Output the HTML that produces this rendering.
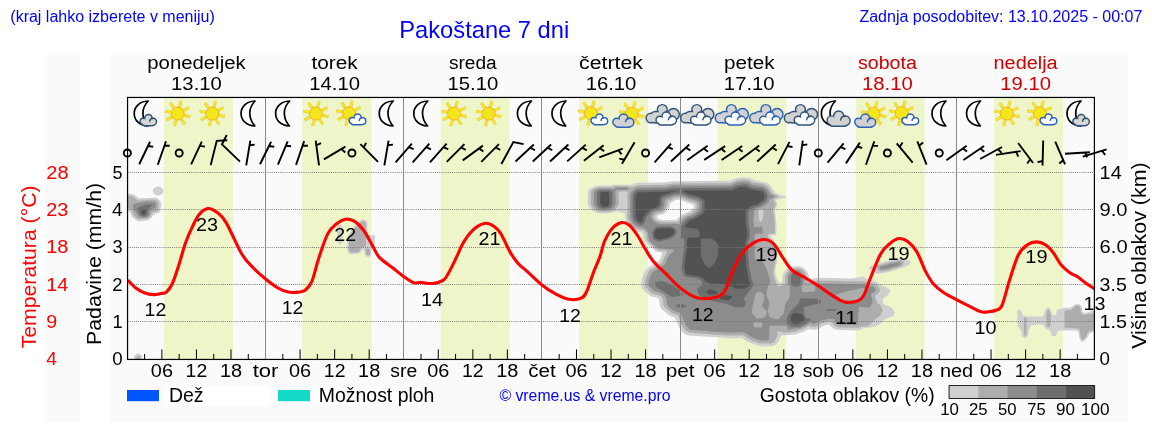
<!DOCTYPE html>
<html><head><meta charset="utf-8"><title>Pakoštane 7 dni</title>
<style>
html,body{margin:0;padding:0;background:#fff;}
body{width:1152px;height:443px;overflow:hidden;font-family:"Liberation Sans",sans-serif;}
svg{display:block;will-change:transform;opacity:0.999;}
svg text{font-family:"Liberation Sans",sans-serif;}
</style></head><body>
<svg width="1152" height="443" viewBox="0 0 1152 443">
<rect x="45" y="55" width="35" height="367.5" fill="#fafafa"/>
<rect x="110" y="55" width="1017.7" height="367.5" fill="#fafafa"/>
<rect x="163.91" y="97.45" width="68.98" height="262" fill="#eef5c8"/>
<rect x="302.31" y="97.45" width="68.94" height="262" fill="#eef5c8"/>
<rect x="440.7" y="97.45" width="68.9" height="262" fill="#eef5c8"/>
<rect x="579.09" y="97.45" width="68.86" height="262" fill="#eef5c8"/>
<rect x="717.49" y="97.45" width="68.82" height="262" fill="#eef5c8"/>
<rect x="855.88" y="97.45" width="68.78" height="262" fill="#eef5c8"/>
<rect x="994.27" y="97.45" width="68.74" height="262" fill="#eef5c8"/>
<clipPath id="pc"><rect x="127.55" y="97.45" width="966.85" height="262.00"/></clipPath>
<g clip-path="url(#pc)" fill-rule="evenodd" stroke="none">
<path d="M136.5 353.8L134.2 356.5L133.8 358.8L134.8 361.8L141.8 361.8L142.5 358.8L141.8 355.8L140.5 354.2L139.2 353.5ZM1095.5 312.8L1094.5 310.8L1092.5 310.8L1086.2 312.8L1083.5 312.8L1082.2 310.8L1082.2 308.2L1081.5 306.2L1078.8 303.8L1076.2 303.8L1070.8 307.5L1064.2 307.8L1058.2 309.5L1056.8 310.5L1056.2 314.5L1054.8 315.5L1053.5 315.5L1052.2 314.2L1050.5 309.2L1048.5 307.8L1047.5 307.8L1045.8 309.2L1044.5 311.5L1043.8 315.2L1042.2 316.5L1026.8 316.5L1023.8 315.8L1022.2 314.5L1021.2 310.5L1020.2 309.8L1018.2 309.8L1017.2 311.2L1017.5 325.8L1021.2 330.8L1021.5 334.5L1022.2 336.5L1025.2 338.2L1026.2 337.8L1028.2 335.5L1028.8 330.2L1030.5 326.2L1031.5 325.2L1037.2 324.5L1042.8 324.5L1046.5 329.2L1048.8 329.8L1050.5 331.5L1051.8 335.5L1053.2 336.5L1055.2 336.2L1056.2 335.2L1057.5 331.8L1059.2 330.5L1076.8 330.5L1078.5 332.2L1079.5 338.5L1080.5 340.8L1081.8 341.8L1083.2 341.8L1086.8 338.5L1089.8 333.2L1094.2 331.5L1095.5 330.2L1095.8 328.2ZM910.5 262.5L909.5 260.5L901.5 258.5L899.2 258.5L887.5 260.8L877.8 263.5L869.8 266.8L869.2 267.5L869.2 268.5L871.8 271.8L876.5 273.8L879.5 273.8L889.8 271.8L902.5 267.8L910.2 264.2ZM338.8 224.5L337.2 225.8L337.2 242.2L339.2 244.2L340.5 244.5L342.5 242.2L342.2 226.2L341.5 225.2L340.2 224.5ZM361.5 219.5L359.5 220.8L356.5 223.8L351.2 230.2L347.2 237.5L347.2 249.5L348.5 253.5L349.5 254.2L358.5 253.8L360.5 252.5L362.5 249.5L363.5 249.5L364.5 251.5L364.8 254.5L365.5 256.2L366.2 256.8L369.5 256.8L371.2 255.2L371.5 248.8L374.8 247.2L374.8 235.5L374.5 234.8L372.8 235.5L369.2 235.5L367.5 234.2L367.5 223.5L366.8 221.5L365.8 220.2L364.5 219.5ZM124.5 195.8L124.5 207.5L124.8 208.2L128.8 210.8L130.2 212.5L131.8 216.5L133.8 218.5L137.8 221.2L141.2 221.2L147.8 220.2L150.8 218.5L154.5 213.8L158.2 213.2L160.2 211.2L161.2 205.8L161.2 202.8L159.8 200.5L156.8 197.8L138.8 198.2L133.8 194.5L130.8 193.8L126.5 193.8ZM157.2 186.5L155.5 187.2L153.5 188.8L152.8 190.2L152.8 191.8L153.5 193.2L155.8 195.2L159.2 195.5L160.8 194.8L163.2 192.8L163.5 189.8L160.8 187.2L159.2 186.5ZM587.8 191.5L587.8 204.5L589.8 208.2L592.5 210.8L595.2 212.2L600.5 213.5L609.5 213.2L612.8 212.5L615.2 211.5L617.5 211.5L624.2 213.2L624.8 213.8L625.2 218.2L625.8 220.5L628.2 225.5L630.5 227.8L634.2 230.2L637.2 231.5L641.5 232.2L642.8 234.2L643.2 237.8L643.8 239.8L646.2 243.2L655.8 251.2L657.5 251.8L660.8 252.2L662.2 253.2L661.8 254.8L659.2 260.5L656.8 262.8L647.2 268.5L645.2 270.8L642.5 276.8L641.2 282.5L641.2 286.5L642.2 288.5L648.8 294.8L651.2 296.2L657.2 297.8L659.2 299.5L659.8 305.2L661.2 308.5L667.8 314.2L671.2 316.2L674.2 317.2L675.5 318.5L679.2 327.8L682.5 332.2L686.2 334.8L689.2 335.5L724.5 337.8L729.2 338.5L741.5 337.8L748.5 342.2L757.2 345.5L760.2 346.2L771.2 346.2L774.2 345.5L776.5 344.2L778.5 341.8L780.8 336.5L781.8 335.5L795.2 334.5L804.2 331.5L808.2 329.2L810.2 329.2L812.5 329.8L817.5 329.2L823.5 325.8L826.8 324.8L829.2 324.8L833.2 328.5L837.5 329.8L857.2 330.5L860.2 329.8L863.8 328.2L868.8 327.8L875.8 326.2L880.8 323.2L886.5 318.5L892.8 316.2L894.5 313.5L894.2 311.5L891.5 307.8L889.2 306.2L884.5 304.5L883.2 303.2L882.5 300.8L882.8 298.8L888.5 294.5L890.2 291.2L889.8 289.8L887.2 287.8L881.5 285.5L877.5 282.2L875.2 281.2L865.8 278.8L863.5 276.5L850.5 278.5L817.5 277.8L810.5 279.2L808.8 277.5L808.8 275.8L807.5 272.2L804.2 268.5L799.5 266.2L794.2 266.2L789.2 267.5L786.5 269.2L783.5 273.2L782.5 275.8L782.5 281.5L780.8 282.8L779.5 282.8L778.2 281.5L776.2 276.5L775.2 271.5L775.8 266.2L777.2 261.8L777.2 248.5L774.2 240.2L770.5 236.8L770.5 235.8L771.5 235.2L774.5 235.2L775.8 234.5L776.5 233.2L776.5 223.8L774.8 209.5L777.2 205.8L777.2 203.8L775.8 200.5L776.8 199.5L785.2 197.8L786.8 196.8L785.2 196.2L782.2 195.8L775.8 193.2L774.5 191.8L771.5 186.8L768.5 183.8L765.2 182.2L754.5 180.5L750.8 178.5L747.8 177.5L741.8 177.5L734.8 178.5L729.8 180.8L673.5 181.2L665.2 182.5L638.5 182.8L634.5 183.5L631.8 184.8L613.5 184.8L611.8 185.5L596.5 185.8L590.5 188.2L588.5 190.2ZM693.8 205.5L693.8 207.5L690.2 211.2L682.2 214.5L675.8 220.2L673.8 219.8L663.2 220.2L658.8 219.2L656.8 217.2L656.8 216.5L658.2 215.2L664.5 213.8L668.2 209.2L669.5 206.5L670.2 203.5L674.8 200.2L679.5 199.5L687.5 202.8L691.2 203.8Z" fill="#cfcfcf"/>
<path d="M137.8 355.8L136.2 357.2L135.8 358.8L137.8 361.8L138.8 361.8L140.2 359.8L140.5 358.2L139.5 356.2ZM1024.5 317.8L1023.8 318.5L1023.8 331.5L1024.2 331.8L1024.2 335.2L1025.5 335.8L1026.2 335.2L1026.5 333.2L1026.8 318.5L1026.2 317.8ZM1047.8 309.5L1046.8 311.5L1046.8 313.5L1046.2 315.8L1046.5 325.5L1047.5 327.2L1049.5 327.2L1050.5 325.5L1050.8 316.5L1049.5 310.5L1048.8 309.5ZM1075.5 305.8L1071.2 309.8L1065.2 310.5L1064.5 311.2L1064.5 327.2L1065.2 327.8L1078.5 328.5L1079.5 329.5L1080.8 338.2L1082.2 339.8L1083.2 339.8L1086.2 336.5L1087.8 332.8L1089.2 331.5L1094.2 329.8L1094.5 329.2L1094.5 314.2L1093.8 313.5L1091.8 313.5L1085.5 314.8L1082.2 314.8L1080.8 312.5L1080.8 309.5L1079.8 306.8L1078.8 305.8ZM903.8 262.5L903.2 261.2L900.8 260.2L897.5 260.5L879.5 264.8L877.5 265.8L876.8 267.5L877.8 269.8L879.5 271.2L882.5 271.5L886.5 270.8L900.2 266.8L902.5 265.5ZM366.2 248.5L365.5 249.5L366.2 254.2L366.8 255.2L369.2 255.2L369.8 254.5L369.8 249.5L369.5 248.8L368.5 248.5ZM364.2 221.2L361.8 221.2L358.8 223.5L352.2 231.5L348.8 237.5L348.8 249.8L350.2 252.5L358.2 252.2L359.5 251.2L360.8 248.5L361.8 247.5L364.8 247.2L365.8 246.5L366.2 245.2L365.8 223.5L364.8 221.5ZM126.8 197.2L126.8 206.5L127.2 207.2L131.5 210.2L133.8 215.2L136.2 217.5L138.8 219.2L147.5 218.5L150.5 216.5L151.5 213.5L152.5 212.2L156.8 211.2L157.8 210.2L158.8 203.5L157.5 201.2L155.5 199.8L147.8 199.5L145.2 200.2L138.8 200.5L136.8 199.8L132.2 196.2L128.2 195.8ZM591.2 191.2L590.8 192.2L590.8 203.8L592.2 206.8L594.5 209.5L596.8 210.8L600.5 211.8L609.5 211.5L613.2 210.5L615.5 209.2L617.5 206.8L618.8 203.8L618.8 197.2L618.5 196.8L618.8 192.2L619.8 191.5L626.8 191.5L627.8 192.2L627.5 194.5L627.5 216.5L628.5 220.5L629.8 223.5L631.5 225.5L635.5 228.2L638.8 229.5L643.2 230.2L645.8 233.2L646.8 239.5L647.8 241.8L656.2 249.2L658.8 250.2L665.5 250.8L667.2 251.8L667.2 252.5L665.8 254.2L663.2 259.5L662.5 261.8L658.8 265.2L650.5 269.8L648.5 271.8L645.8 278.2L644.8 282.5L644.8 286.2L651.8 293.2L660.2 295.8L661.5 296.8L662.8 299.2L663.5 305.2L664.2 306.8L671.2 312.8L676.8 314.8L678.2 315.8L682.5 326.8L684.8 329.2L685.2 330.2L688.2 332.5L710.5 334.2L710.8 334.5L725.2 335.2L725.5 335.5L742.8 335.2L751.2 340.2L759.2 343.2L770.2 343.5L773.5 342.5L775.2 340.8L777.5 335.5L777.5 331.2L777.8 330.8L781.8 332.5L788.5 332.5L794.5 331.8L803.2 328.8L808.5 325.8L809.5 325.8L811.5 326.8L815.5 326.8L821.5 323.5L827.5 321.8L831.2 321.8L835.2 326.2L838.5 327.2L857.8 327.8L862.8 326.5L868.2 325.8L869.8 324.8L875.2 319.5L880.5 315.2L882.5 311.2L882.5 309.5L880.5 305.2L876.8 302.8L876.2 299.5L875.2 297.2L875.2 295.5L877.8 293.5L879.8 291.2L879.8 289.2L879.2 287.8L876.5 285.2L874.2 283.8L863.8 281.2L841.5 281.2L841.2 280.8L815.8 280.8L809.8 282.2L807.2 282.2L806.5 281.2L805.8 274.8L804.5 272.2L802.2 269.8L799.8 268.5L794.5 268.2L789.5 269.8L786.5 273.2L785.2 276.5L785.5 283.2L784.5 284.5L779.5 286.5L777.8 286.2L776.8 285.2L773.5 274.8L773.5 269.8L775.5 261.8L775.5 248.2L772.8 241.2L769.2 238.2L767.2 235.8L768.2 234.5L769.5 233.8L774.2 233.5L774.8 232.8L774.8 223.5L773.2 209.2L775.5 205.5L775.5 203.8L773.5 199.8L774.5 198.8L777.2 197.8L778.2 196.8L778.2 196.2L777.2 195.2L774.5 194.5L772.8 193.5L768.8 187.5L765.5 184.8L762.2 183.8L752.8 182.5L749.5 180.5L744.8 179.5L736.5 180.5L730.5 183.2L673.2 183.5L665.2 184.8L638.2 185.2L634.2 186.2L632.8 187.2L630.8 187.2L628.8 186.2L614.5 186.2L612.2 187.2L598.5 187.2L593.5 188.8ZM756.2 217.8L756.5 218.2L756.2 220.2L755.5 219.2ZM761.8 209.2L763.5 210.2L763.5 213.8L762.5 219.8L760.8 221.8L760.2 221.8L759.2 220.8L758.2 210.8L759.2 209.5ZM696.8 204.5L696.5 208.5L695.5 209.8L694.2 210.5L691.8 212.8L683.8 216.2L678.2 221.8L677.2 222.2L660.5 221.8L656.5 220.5L654.8 218.8L653.8 216.8L655.2 214.2L657.2 213.2L662.2 212.2L663.5 211.5L666.8 206.2L667.5 203.8L667.5 201.8L668.8 200.5L670.8 200.2L673.8 198.2L677.2 197.5L680.5 197.5L687.5 200.5L694.2 202.5Z" fill="#adadad"/>
<path d="M900.8 262.8L900.2 262.2L898.8 262.2L890.2 263.8L880.2 266.8L879.8 267.8L880.5 269.2L881.2 269.5L887.2 268.8L899.2 265.2L900.2 264.5ZM156.2 203.2L154.8 202.2L147.5 201.2L134.2 203.8L132.8 204.8L133.2 208.5L138.8 216.5L141.2 217.5L145.5 217.5L147.5 216.8L148.8 215.5L149.5 214.2L149.8 211.2L151.5 209.5L155.8 207.5ZM628.2 188.2L627.2 187.5L616.2 187.5L614.8 188.5L614.2 189.8L610.5 188.8L598.8 188.8L595.5 190.2L594.5 191.2L593.8 192.8L593.8 203.2L594.8 205.8L597.5 208.8L600.8 210.2L606.8 210.2L610.5 209.5L612.5 208.5L614.2 206.8L615.8 202.8L615.2 190.5L616.8 189.8L627.2 189.8L628.2 189.2ZM630.8 192.8L630.2 194.8L630.2 216.8L632.2 222.5L634.2 224.5L636.8 226.2L639.2 227.2L642.8 227.5L644.8 228.8L647.8 232.2L648.8 238.5L649.8 241.2L656.8 247.2L658.8 248.2L671.5 249.5L673.8 250.5L673.8 251.5L670.5 253.8L668.8 255.8L666.8 259.8L665.5 263.8L659.8 268.2L653.2 271.8L651.5 273.5L649.5 278.5L648.5 282.8L648.5 285.5L653.8 290.8L662.2 293.5L664.5 295.2L666.5 298.8L666.8 303.2L667.8 306.2L673.2 310.5L679.8 312.8L681.2 313.8L685.8 325.5L688.5 327.8L688.8 329.2L689.8 329.8L708.5 331.2L708.8 331.5L727.5 332.5L727.8 332.8L742.5 332.2L745.8 333.2L750.5 336.5L753.2 337.8L760.2 340.5L768.2 340.5L768.8 339.8L768.8 336.2L769.2 335.8L769.2 326.8L770.2 325.8L773.2 325.5L786.2 325.8L787.2 326.8L787.5 328.8L788.2 329.5L790.8 329.5L795.2 328.5L799.8 328.2L807.5 324.5L809.8 322.8L811.2 322.8L812.8 324.2L814.2 324.2L820.2 320.8L828.8 318.8L833.8 319.2L836.8 323.5L837.8 324.2L856.5 324.8L857.8 323.5L858.8 307.8L859.8 306.8L869.2 307.8L870.5 306.5L872.5 302.5L872.5 299.8L870.8 294.5L872.2 293.2L874.8 291.8L876.2 289.8L873.5 286.8L864.8 284.2L816.8 283.5L814.8 284.5L815.5 290.5L814.5 291.5L803.8 292.2L802.5 291.2L801.8 289.2L801.8 285.8L803.2 284.2L803.8 280.8L802.8 274.2L799.2 270.5L795.2 270.2L791.5 271.2L789.5 273.2L788.2 275.5L787.8 276.8L788.2 283.5L790.2 287.8L789.8 294.8L789.2 297.8L785.2 304.2L783.8 313.5L777.8 319.5L771.8 318.2L769.5 316.5L767.8 311.8L769.5 302.5L766.5 296.2L766.5 293.2L767.8 286.5L769.8 283.5L770.5 281.5L766.8 269.8L762.2 260.5L760.8 259.2L755.8 259.5L754.8 258.5L754.5 235.2L755.8 233.8L762.5 233.5L762.8 230.8L762.2 227.8L761.2 226.5L755.2 227.2L754.2 226.2L753.5 221.5L753.5 216.5L754.2 211.2L755.5 209.5L758.2 207.8L762.2 207.2L765.8 204.8L768.2 202.5L769.2 199.8L770.5 198.5L773.5 197.5L774.8 196.5L774.2 195.8L770.5 194.5L767.5 189.8L764.2 186.8L752.5 184.8L748.2 182.5L744.5 181.8L736.8 182.8L730.8 185.5L672.8 185.8L665.2 187.2L637.8 187.5L634.8 188.5ZM753.5 323.5L754.8 322.2L761.2 322.2L762.5 323.5L762.5 326.2L761.2 327.5L754.8 327.5L753.5 326.2ZM757.5 291.8L761.8 292.5L763.5 294.2L764.2 296.8L764.2 299.8L762.2 304.8L762.2 306.2L766.8 311.2L766.8 312.5L765.8 315.2L764.2 317.5L758.8 318.5L756.5 318.2L751.8 313.2L752.5 307.5L755.8 293.5ZM865.5 288.8L864.8 292.8L863.5 295.2L859.8 298.8L857.8 299.8L848.8 300.8L839.2 300.5L837.2 299.5L834.5 296.8L834.5 296.2L835.8 294.8L846.2 291.5L863.5 287.8ZM699.2 202.8L699.5 206.2L698.8 210.2L692.8 214.8L685.8 217.5L679.2 224.2L675.8 223.8L661.5 224.2L658.2 223.5L654.8 222.2L652.5 219.8L651.2 217.2L651.5 214.8L653.2 212.8L654.8 211.8L660.2 210.5L662.2 209.2L664.5 205.2L664.8 200.2L665.8 199.2L670.2 197.8L673.2 196.2L676.8 195.5L681.2 195.5L688.2 198.5L696.5 200.8Z" fill="#8c8c8c"/>
<path d="M825.8 309.8L826.2 310.8L835.8 310.8L836.5 310.2L836.2 309.2L826.5 309.2ZM675.8 305.2L676.5 306.5L679.8 307.8L683.2 307.8L686.2 306.8L686.8 306.2L685.5 305.2L680.2 303.8ZM821.2 300.5L818.8 299.5L813.8 298.5L807.8 298.8L804.2 298.2L800.2 298.2L799.5 299.2L799.5 301.5L798.8 302.8L789.2 313.2L786.5 318.8L786.8 323.2L791.2 326.5L794.5 326.5L794.8 326.8L799.2 326.8L806.2 323.5L810.8 319.8L811.2 318.5L806.5 318.2L805.5 317.2L803.8 312.2L803.8 307.5L804.8 306.5L808.2 306.5L813.5 304.5L819.2 304.2L820.8 302.5ZM654.8 283.2L656.5 286.8L658.5 288.8L671.5 296.8L675.5 296.8L682.5 295.5L682.5 294.2L680.5 290.8L672.2 285.2L663.5 281.2L660.2 281.2L655.5 282.2ZM796.8 272.2L792.8 273.2L790.8 276.2L791.2 283.8L793.2 286.2L794.5 286.8L795.8 286.8L799.8 285.5L800.8 282.5L800.5 275.8L799.8 274.5L797.8 272.5ZM675.8 229.2L673.8 227.5L669.2 226.2L656.8 226.8L655.5 227.5L652.5 231.2L652.2 233.2L652.8 237.5L653.8 239.2L658.2 241.5L659.8 241.5L670.5 238.8L671.8 238.2L675.8 234.2L676.5 232.5ZM152.2 204.2L145.5 204.8L138.8 207.2L137.8 208.2L138.2 211.2L140.2 215.2L142.5 216.2L144.5 216.2L146.5 215.5L147.5 213.8L148.2 209.5L151.8 205.5ZM598.5 190.8L597.2 192.2L597.2 204.2L598.8 206.8L600.5 208.2L603.2 208.8L608.5 208.2L610.5 207.2L612.5 203.8L612.2 192.2L610.8 190.8L608.2 190.2L601.2 190.2ZM635.8 190.8L634.2 192.5L632.8 194.8L632.8 216.8L633.8 220.2L634.8 221.8L638.2 224.2L640.8 225.2L642.8 224.8L644.2 223.8L646.5 217.2L651.2 211.5L654.2 209.8L658.2 208.8L660.5 207.2L662.2 203.8L661.8 200.5L662.2 198.8L664.2 197.2L674.5 193.8L681.5 193.5L690.8 197.2L692.2 197.2L697.8 198.8L701.5 201.5L702.2 203.5L702.2 205.8L701.8 206.2L701.8 209.8L701.2 211.5L694.8 216.2L687.5 219.2L683.8 222.8L682.5 224.8L680.2 226.8L679.8 227.8L680.2 237.5L683.5 238.8L684.5 240.5L684.2 248.2L681.8 264.2L681.8 268.8L683.2 274.2L683.8 275.5L685.5 276.8L696.5 278.2L701.5 280.8L702.5 282.8L702.5 283.8L700.5 286.2L697.5 288.2L697.2 290.5L698.5 294.2L703.8 298.5L711.5 300.8L726.5 303.8L735.8 307.2L743.5 307.2L744.2 306.8L745.2 305.5L745.8 302.2L743.8 299.5L743.8 298.2L753.2 285.8L753.2 283.8L751.2 277.8L751.2 276.2L749.5 268.8L748.2 255.5L747.8 242.8L749.8 237.2L749.8 230.8L748.2 221.8L748.5 212.8L749.2 210.8L752.5 208.2L759.5 205.8L765.5 201.8L766.8 199.2L767.5 196.8L767.5 194.8L764.8 190.5L762.8 188.8L751.8 187.2L746.8 184.5L744.8 184.2L737.2 185.2L731.5 187.8L672.8 188.2L665.2 189.5L638.2 189.8Z" fill="#6e6e6e"/>
<path d="M790.8 316.5L790.8 321.5L791.8 322.5L795.8 324.2L801.2 322.5L803.2 321.5L804.5 319.8L803.2 315.5L802.2 314.5L800.5 313.8L794.8 312.8L791.8 314.8ZM720.2 298.8L721.5 299.8L728.2 300.2L731.8 297.8L732.2 296.8L731.5 296.2L728.2 295.2L724.8 295.2L720.8 296.8L720.2 297.5ZM706.8 291.5L706.8 292.8L708.2 294.2L715.8 294.5L717.5 292.8L716.8 291.8L711.5 289.5L709.5 289.5ZM654.2 232.8L654.8 237.2L657.8 239.5L660.8 239.5L670.5 236.8L674.2 233.2L674.2 230.5L673.2 229.2L670.2 228.2L665.5 228.2L665.2 228.5L660.2 228.2L656.8 228.8L655.5 230.2ZM145.5 209.5L144.2 209.2L142.2 209.8L141.2 210.8L141.5 213.5L142.5 214.5L144.2 214.5L145.2 213.8L145.8 211.2ZM601.2 192.2L600.2 193.2L600.2 203.5L601.5 205.8L602.8 206.8L607.2 206.5L608.2 205.8L609.5 203.2L609.2 193.2L608.8 192.5L606.8 191.8ZM676.2 191.2L675.8 190.8L672.5 190.8L666.2 191.8L652.5 191.8L652.2 192.2L638.8 192.2L637.8 192.5L635.5 195.5L635.5 216.5L636.8 220.2L638.5 221.5L640.5 222.5L641.5 222.5L642.5 221.2L642.8 218.8L643.8 216.5L647.5 211.8L650.5 209.2L657.2 206.8L658.5 205.5L659.5 203.5L659.2 198.8L661.5 195.8L666.8 193.5L668.2 193.5L672.5 191.8ZM761.8 191.2L749.8 189.2L745.8 186.8L739.2 187.2L732.2 190.2L684.5 190.5L682.2 191.2L688.8 194.2L697.8 196.2L701.2 197.8L704.2 200.2L704.8 203.2L704.5 210.2L703.8 212.5L702.2 214.2L696.5 217.8L688.8 221.2L684.8 225.8L684.8 226.8L685.8 227.5L694.8 228.5L697.2 229.2L698.8 231.2L699.8 233.8L699.8 236.2L698.5 237.2L688.2 237.8L687.2 238.5L686.8 248.8L685.5 255.8L684.5 264.8L684.5 268.5L685.8 273.5L686.8 274.5L698.5 276.2L702.8 278.2L705.5 281.5L710.2 283.5L726.5 284.5L736.2 288.5L744.5 288.8L750.2 285.5L750.5 284.5L748.8 279.8L746.5 267.2L745.8 256.5L745.5 256.2L745.2 242.5L747.2 236.8L747.2 231.2L745.5 222.2L745.8 212.2L746.5 209.8L749.5 207.2L752.2 205.5L757.5 204.2L763.5 200.2L764.8 195.5L763.2 192.5ZM702.2 238.5L712.2 238.8L715.8 241.5L718.2 244.2L718.2 254.5L715.8 261.5L714.8 263.2L709.8 267.8L708.5 267.8L707.5 267.2L704.8 264.2L701.2 256.8L700.8 255.5L700.8 239.8Z" fill="#525252"/>
</g>

<line x1="127.55" x2="1094.4" y1="321.5" y2="321.5" stroke="#777" stroke-width="1" stroke-dasharray="0.95 1.17"/>
<line x1="127.55" x2="1094.4" y1="284.5" y2="284.5" stroke="#777" stroke-width="1" stroke-dasharray="0.95 1.17"/>
<line x1="127.55" x2="1094.4" y1="247.5" y2="247.5" stroke="#777" stroke-width="1" stroke-dasharray="0.95 1.17"/>
<line x1="127.55" x2="1094.4" y1="209.5" y2="209.5" stroke="#777" stroke-width="1" stroke-dasharray="0.95 1.17"/>
<line x1="127.55" x2="1094.4" y1="172.5" y2="172.5" stroke="#777" stroke-width="1" stroke-dasharray="0.95 1.17"/>
<line x1="265.5" x2="265.5" y1="97.45" y2="359.45" stroke="#8a8a8a" stroke-width="1"/>
<line x1="403.5" x2="403.5" y1="97.45" y2="359.45" stroke="#8a8a8a" stroke-width="1"/>
<line x1="541.5" x2="541.5" y1="97.45" y2="359.45" stroke="#8a8a8a" stroke-width="1"/>
<line x1="680.5" x2="680.5" y1="97.45" y2="359.45" stroke="#8a8a8a" stroke-width="1"/>
<line x1="818.5" x2="818.5" y1="97.45" y2="359.45" stroke="#8a8a8a" stroke-width="1"/>
<line x1="956.5" x2="956.5" y1="97.45" y2="359.45" stroke="#8a8a8a" stroke-width="1"/>
<line x1="144.62" x2="144.62" y1="359.45" y2="353.95" stroke="#000" stroke-width="1"/>
<line x1="161.9" x2="161.9" y1="359.45" y2="349.45" stroke="#000" stroke-width="1"/>
<line x1="179.17" x2="179.17" y1="359.45" y2="353.95" stroke="#000" stroke-width="1"/>
<line x1="196.45" x2="196.45" y1="359.45" y2="349.45" stroke="#000" stroke-width="1"/>
<line x1="213.72" x2="213.72" y1="359.45" y2="353.95" stroke="#000" stroke-width="1"/>
<line x1="230.99" x2="230.99" y1="359.45" y2="349.45" stroke="#000" stroke-width="1"/>
<line x1="248.27" x2="248.27" y1="359.45" y2="353.95" stroke="#000" stroke-width="1"/>
<line x1="282.82" x2="282.82" y1="359.45" y2="353.95" stroke="#000" stroke-width="1"/>
<line x1="300.09" x2="300.09" y1="359.45" y2="349.45" stroke="#000" stroke-width="1"/>
<line x1="317.36" x2="317.36" y1="359.45" y2="353.95" stroke="#000" stroke-width="1"/>
<line x1="334.64" x2="334.64" y1="359.45" y2="349.45" stroke="#000" stroke-width="1"/>
<line x1="351.91" x2="351.91" y1="359.45" y2="353.95" stroke="#000" stroke-width="1"/>
<line x1="369.19" x2="369.19" y1="359.45" y2="349.45" stroke="#000" stroke-width="1"/>
<line x1="386.46" x2="386.46" y1="359.45" y2="353.95" stroke="#000" stroke-width="1"/>
<line x1="421.01" x2="421.01" y1="359.45" y2="353.95" stroke="#000" stroke-width="1"/>
<line x1="438.28" x2="438.28" y1="359.45" y2="349.45" stroke="#000" stroke-width="1"/>
<line x1="455.56" x2="455.56" y1="359.45" y2="353.95" stroke="#000" stroke-width="1"/>
<line x1="472.83" x2="472.83" y1="359.45" y2="349.45" stroke="#000" stroke-width="1"/>
<line x1="490.1" x2="490.1" y1="359.45" y2="353.95" stroke="#000" stroke-width="1"/>
<line x1="507.38" x2="507.38" y1="359.45" y2="349.45" stroke="#000" stroke-width="1"/>
<line x1="524.65" x2="524.65" y1="359.45" y2="353.95" stroke="#000" stroke-width="1"/>
<line x1="559.2" x2="559.2" y1="359.45" y2="353.95" stroke="#000" stroke-width="1"/>
<line x1="576.47" x2="576.47" y1="359.45" y2="349.45" stroke="#000" stroke-width="1"/>
<line x1="593.75" x2="593.75" y1="359.45" y2="353.95" stroke="#000" stroke-width="1"/>
<line x1="611.02" x2="611.02" y1="359.45" y2="349.45" stroke="#000" stroke-width="1"/>
<line x1="628.3" x2="628.3" y1="359.45" y2="353.95" stroke="#000" stroke-width="1"/>
<line x1="645.57" x2="645.57" y1="359.45" y2="349.45" stroke="#000" stroke-width="1"/>
<line x1="662.84" x2="662.84" y1="359.45" y2="353.95" stroke="#000" stroke-width="1"/>
<line x1="697.39" x2="697.39" y1="359.45" y2="353.95" stroke="#000" stroke-width="1"/>
<line x1="714.67" x2="714.67" y1="359.45" y2="349.45" stroke="#000" stroke-width="1"/>
<line x1="731.94" x2="731.94" y1="359.45" y2="353.95" stroke="#000" stroke-width="1"/>
<line x1="749.21" x2="749.21" y1="359.45" y2="349.45" stroke="#000" stroke-width="1"/>
<line x1="766.49" x2="766.49" y1="359.45" y2="353.95" stroke="#000" stroke-width="1"/>
<line x1="783.76" x2="783.76" y1="359.45" y2="349.45" stroke="#000" stroke-width="1"/>
<line x1="801.04" x2="801.04" y1="359.45" y2="353.95" stroke="#000" stroke-width="1"/>
<line x1="835.58" x2="835.58" y1="359.45" y2="353.95" stroke="#000" stroke-width="1"/>
<line x1="852.86" x2="852.86" y1="359.45" y2="349.45" stroke="#000" stroke-width="1"/>
<line x1="870.13" x2="870.13" y1="359.45" y2="353.95" stroke="#000" stroke-width="1"/>
<line x1="887.41" x2="887.41" y1="359.45" y2="349.45" stroke="#000" stroke-width="1"/>
<line x1="904.68" x2="904.68" y1="359.45" y2="353.95" stroke="#000" stroke-width="1"/>
<line x1="921.95" x2="921.95" y1="359.45" y2="349.45" stroke="#000" stroke-width="1"/>
<line x1="939.23" x2="939.23" y1="359.45" y2="353.95" stroke="#000" stroke-width="1"/>
<line x1="973.78" x2="973.78" y1="359.45" y2="353.95" stroke="#000" stroke-width="1"/>
<line x1="991.05" x2="991.05" y1="359.45" y2="349.45" stroke="#000" stroke-width="1"/>
<line x1="1008.32" x2="1008.32" y1="359.45" y2="353.95" stroke="#000" stroke-width="1"/>
<line x1="1025.6" x2="1025.6" y1="359.45" y2="349.45" stroke="#000" stroke-width="1"/>
<line x1="1042.87" x2="1042.87" y1="359.45" y2="353.95" stroke="#000" stroke-width="1"/>
<line x1="1060.15" x2="1060.15" y1="359.45" y2="349.45" stroke="#000" stroke-width="1"/>
<line x1="1077.42" x2="1077.42" y1="359.45" y2="353.95" stroke="#000" stroke-width="1"/>
<defs><g id="i-s"><path d="M0.21 -6.18L1.86 -12.36M4.33 -2.90L9.98 -5.90M4.90 1.80L11.11 3.34M2.09 5.74L5.58 11.10M-3.10 6.60L-4.64 12.81M-7.22 3.50L-12.76 6.70M-7.98 -1.06L-14.26 -2.28M-5.19 -5.27L-8.77 -10.58" stroke="#e9c93c" stroke-width="3.0" stroke-linecap="butt" fill="none"/><path d="M0.21 -6.18L1.74 -11.87M4.33 -2.90L9.54 -5.67M4.90 1.80L10.63 3.22M2.09 5.74L5.31 10.68M-3.10 6.60L-4.52 12.33M-7.22 3.50L-12.33 6.45M-7.98 -1.06L-13.77 -2.19M-5.19 -5.27L-8.49 -10.16" stroke="#f6e72b" stroke-width="2.0" stroke-linecap="butt" fill="none"/><circle cx="-1.5" cy="0.2" r="6.5" fill="#f3e71c" stroke="#f8ad28" stroke-width="1"/></g><g id="i-m"><path d="M6.8 -12.4C-2.5 -12 -7.2 -6 -7.2 -0.2C-7.2 6.5 -2.5 12 6.6 12.6C3.2 8.6 1.5 4.2 1.5 -0.2C1.5 -4.6 3.2 -8.8 6.8 -12.4Z" transform="translate(0 0)" fill="#fff" stroke="#000" stroke-width="1.7" stroke-linejoin="round"/></g><g id="i-ssc"><path d="M-1.19 -6.48L0.46 -12.66M2.93 -3.20L8.58 -6.20M3.50 1.50L9.71 3.04M0.69 5.44L4.18 10.80M-4.50 6.30L-6.04 12.51M-8.62 3.20L-14.16 6.40M-9.38 -1.36L-15.66 -2.58M-6.59 -5.57L-10.17 -10.88" stroke="#e9c93c" stroke-width="3.0" stroke-linecap="butt" fill="none"/><path d="M-1.19 -6.48L0.34 -12.17M2.93 -3.20L8.14 -5.97M3.50 1.50L9.23 2.92M0.69 5.44L3.91 10.38M-4.50 6.30L-5.92 12.03M-8.62 3.20L-13.73 6.15M-9.38 -1.36L-15.17 -2.49M-6.59 -5.57L-9.89 -10.46" stroke="#f6e72b" stroke-width="2.0" stroke-linecap="butt" fill="none"/><circle cx="-2.9" cy="-0.1" r="6.5" fill="#f3e71c" stroke="#f8ad28" stroke-width="1"/><g fill="#2a60b8" stroke="#2a60b8" stroke-width="2.9" stroke-linejoin="round"><circle cx="0.32" cy="7.22" r="2.33"/><circle cx="5.69" cy="4.17" r="2.82"/><circle cx="10.61" cy="7.53" r="2.58"/><rect x="-0.38" y="5.47" width="11.76" height="5.18" rx="2.20"/></g><g fill="#fff" stroke="none"><circle cx="0.32" cy="7.22" r="2.33"/><circle cx="5.69" cy="4.17" r="2.82"/><circle cx="10.61" cy="7.53" r="2.58"/><rect x="-0.38" y="5.47" width="11.76" height="5.18" rx="2.20"/></g><path d="M10.61 4.22A3.30 3.30 0 0 0 7.34 7.07" fill="none" stroke="#2a60b8" stroke-width="1.45" stroke-linecap="round"/></g><g id="i-sbc"><path d="M5.21 -5.88L6.86 -12.06M9.33 -2.60L14.98 -5.60M9.90 2.10L16.11 3.64M7.09 6.04L10.58 11.40M1.90 6.90L0.36 13.11M-2.22 3.80L-7.76 7.00M-2.98 -0.76L-9.26 -1.98M-0.19 -4.97L-3.77 -10.28" stroke="#e9c93c" stroke-width="3.0" stroke-linecap="butt" fill="none"/><path d="M5.21 -5.88L6.74 -11.57M9.33 -2.60L14.54 -5.37M9.90 2.10L15.63 3.52M7.09 6.04L10.31 10.98M1.90 6.90L0.48 12.63M-2.22 3.80L-7.33 6.75M-2.98 -0.76L-8.77 -1.89M-0.19 -4.97L-3.49 -9.86" stroke="#f6e72b" stroke-width="2.0" stroke-linecap="butt" fill="none"/><circle cx="3.5" cy="0.5" r="6.5" fill="#f3e71c" stroke="#f8ad28" stroke-width="1"/><g fill="#2a60b8" stroke="#2a60b8" stroke-width="2.9" stroke-linejoin="round"><circle cx="-11.59" cy="8.68" r="3.14"/><circle cx="-4.84" cy="4.98" r="3.73"/><circle cx="1.35" cy="9.05" r="3.43"/><rect x="-12.53" y="6.33" width="14.91" height="6.82" rx="2.20"/></g><g fill="#d2d2d2" stroke="none"><circle cx="-11.59" cy="8.68" r="3.14"/><circle cx="-4.84" cy="4.98" r="3.73"/><circle cx="1.35" cy="9.05" r="3.43"/><rect x="-12.53" y="6.33" width="14.91" height="6.82" rx="2.20"/></g><path d="M1.35 4.89A4.16 4.16 0 0 0 -2.77 8.47" fill="none" stroke="#2a60b8" stroke-width="1.45" stroke-linecap="round"/></g><g id="i-mc"><path d="M6.8 -12.4C-2.5 -12 -7.2 -6 -7.2 -0.2C-7.2 6.5 -2.5 12 6.6 12.6C3.2 8.6 1.5 4.2 1.5 -0.2C1.5 -4.6 3.2 -8.8 6.8 -12.4Z" transform="translate(-3.2 0)" fill="#fff" stroke="#000" stroke-width="1.7" stroke-linejoin="round"/><g fill="#2f5278" stroke="#2f5278" stroke-width="2.9" stroke-linejoin="round"><circle cx="-1.35" cy="7.96" r="2.46"/><circle cx="3.79" cy="4.81" r="2.96"/><circle cx="8.48" cy="8.28" r="2.71"/><rect x="-2.08" y="6.12" width="11.38" height="5.43" rx="2.20"/></g><g fill="#d6d6d6" stroke="none"><circle cx="-1.35" cy="7.96" r="2.46"/><circle cx="3.79" cy="4.81" r="2.96"/><circle cx="8.48" cy="8.28" r="2.71"/><rect x="-2.08" y="6.12" width="11.38" height="5.43" rx="2.20"/></g><path d="M8.48 4.84A3.43 3.43 0 0 0 5.09 7.80" fill="none" stroke="#2f5278" stroke-width="1.45" stroke-linecap="round"/></g><g id="i-mbc"><path d="M6.8 -12.4C-2.5 -12 -7.2 -6 -7.2 -0.2C-7.2 6.5 -2.5 12 6.6 12.6C3.2 8.6 1.5 4.2 1.5 -0.2C1.5 -4.6 3.2 -8.8 6.8 -12.4Z" transform="translate(-7 0)" fill="#fff" stroke="#000" stroke-width="1.7" stroke-linejoin="round"/><g fill="#2f5278" stroke="#2f5278" stroke-width="2.9" stroke-linejoin="round"><circle cx="-4.08" cy="6.92" r="3.73"/><circle cx="3.12" cy="2.74" r="4.39"/><circle cx="9.71" cy="7.34" r="4.06"/><rect x="-5.19" y="4.12" width="16.12" height="8.03" rx="2.20"/></g><g fill="#d2d2d2" stroke="none"><circle cx="-4.08" cy="6.92" r="3.73"/><circle cx="3.12" cy="2.74" r="4.39"/><circle cx="9.71" cy="7.34" r="4.06"/><rect x="-5.19" y="4.12" width="16.12" height="8.03" rx="2.20"/></g><path d="M9.71 2.55A4.79 4.79 0 0 0 4.97 6.67" fill="none" stroke="#2f5278" stroke-width="1.45" stroke-linecap="round"/></g><g id="i-ccn"><g fill="#2f5278" stroke="#2f5278" stroke-width="2.9" stroke-linejoin="round"><circle cx="-11.90" cy="4.60" r="4.05"/><circle cx="-0.60" cy="-3.90" r="4.15"/><circle cx="10.60" cy="0.90" r="5.15"/><rect x="-11.50" y="-1.20" width="23.64" height="10.15" rx="4.00"/></g><g fill="#d2d2d2" stroke="none"><circle cx="-11.90" cy="4.60" r="4.05"/><circle cx="-0.60" cy="-3.90" r="4.15"/><circle cx="10.60" cy="0.90" r="5.15"/><rect x="-11.50" y="-1.20" width="23.64" height="10.15" rx="4.00"/></g><g fill="#2f5278" stroke="#2f5278" stroke-width="2.9" stroke-linejoin="round"><circle cx="-3.10" cy="6.54" r="3.01"/><circle cx="3.51" cy="2.94" r="3.59"/><circle cx="9.56" cy="6.90" r="3.30"/><rect x="-4.00" y="4.28" width="14.55" height="6.57" rx="2.20"/></g><g fill="#fff" stroke="none"><circle cx="-3.10" cy="6.54" r="3.01"/><circle cx="3.51" cy="2.94" r="3.59"/><circle cx="9.56" cy="6.90" r="3.30"/><rect x="-4.00" y="4.28" width="14.55" height="6.57" rx="2.20"/></g><path d="M9.56 2.87A4.03 4.03 0 0 0 5.57 6.34" fill="none" stroke="#2f5278" stroke-width="1.45" stroke-linecap="round"/></g><g id="i-ccd"><g fill="#2a60b8" stroke="#2a60b8" stroke-width="2.9" stroke-linejoin="round"><circle cx="-11.90" cy="4.60" r="4.05"/><circle cx="-0.60" cy="-3.90" r="4.15"/><circle cx="10.60" cy="0.90" r="5.15"/><rect x="-11.50" y="-1.20" width="23.64" height="10.15" rx="4.00"/></g><g fill="#d2d2d2" stroke="none"><circle cx="-11.90" cy="4.60" r="4.05"/><circle cx="-0.60" cy="-3.90" r="4.15"/><circle cx="10.60" cy="0.90" r="5.15"/><rect x="-11.50" y="-1.20" width="23.64" height="10.15" rx="4.00"/></g><g fill="#2a60b8" stroke="#2a60b8" stroke-width="2.9" stroke-linejoin="round"><circle cx="-3.10" cy="6.54" r="3.01"/><circle cx="3.51" cy="2.94" r="3.59"/><circle cx="9.56" cy="6.90" r="3.30"/><rect x="-4.00" y="4.28" width="14.55" height="6.57" rx="2.20"/></g><g fill="#fff" stroke="none"><circle cx="-3.10" cy="6.54" r="3.01"/><circle cx="3.51" cy="2.94" r="3.59"/><circle cx="9.56" cy="6.90" r="3.30"/><rect x="-4.00" y="4.28" width="14.55" height="6.57" rx="2.20"/></g><path d="M9.56 2.87A4.03 4.03 0 0 0 5.57 6.34" fill="none" stroke="#2a60b8" stroke-width="1.45" stroke-linecap="round"/></g></defs>
<use href="#i-mc" x="144.62" y="113.4"/>
<use href="#i-s" x="179.17" y="113.4"/>
<use href="#i-s" x="213.72" y="113.4"/>
<use href="#i-m" x="248.27" y="113.4"/>
<use href="#i-m" x="282.82" y="113.4"/>
<use href="#i-s" x="317.36" y="113.4"/>
<use href="#i-ssc" x="351.91" y="113.4"/>
<use href="#i-m" x="386.46" y="113.4"/>
<use href="#i-m" x="421.01" y="113.4"/>
<use href="#i-s" x="455.56" y="113.4"/>
<use href="#i-s" x="490.1" y="113.4"/>
<use href="#i-m" x="524.65" y="113.4"/>
<use href="#i-m" x="559.2" y="113.4"/>
<use href="#i-ssc" x="593.75" y="113.4"/>
<use href="#i-sbc" x="628.3" y="113.4"/>
<use href="#i-ccn" x="662.84" y="113.4"/>
<use href="#i-ccn" x="697.39" y="113.4"/>
<use href="#i-ccd" x="731.94" y="113.4"/>
<use href="#i-ccd" x="766.49" y="113.4"/>
<use href="#i-ccn" x="801.04" y="113.4"/>
<use href="#i-mbc" x="835.58" y="113.4"/>
<use href="#i-sbc" x="870.13" y="113.4"/>
<use href="#i-ssc" x="904.68" y="113.4"/>
<use href="#i-m" x="939.23" y="113.4"/>
<use href="#i-m" x="973.78" y="113.4"/>
<use href="#i-s" x="1008.32" y="113.4"/>
<use href="#i-ssc" x="1042.87" y="113.4"/>
<use href="#i-mc" x="1077.42" y="113.4"/>

<g fill="none" stroke="#000" stroke-width="1.9" stroke-linejoin="miter" stroke-linecap="butt">
<circle cx="127.35" cy="153" r="3.55" stroke-width="1.9"/>
<path d="M0 12.5L0 -12.5M0 -7.81L5 -9.38" transform="translate(144.62 153) rotate(25.7)"/>
<path d="M0 12.5L0 -12.5M0 -7.81L5 -9.38" transform="translate(161.9 153) rotate(19.2)"/>
<circle cx="179.17" cy="153" r="3.55" stroke-width="1.9"/>
<path d="M0 12.5L0 -12.5M0 -7.81L5 -9.38" transform="translate(196.45 153) rotate(25.2)"/>
<path d="M0 12.5L0 -12.5L10 -15.62" transform="translate(213.72 153) rotate(14)"/>
<path d="M0 12.5L0 -12.5L10 -15.62" transform="translate(230.99 153) rotate(314)"/>
<path d="M0 12.5L0 -12.5M0 -7.81L5 -9.38" transform="translate(248.27 153) rotate(9.5)"/>
<path d="M0 12.5L0 -12.5M0 -7.81L5 -9.38" transform="translate(265.54 153) rotate(26.3)"/>
<path d="M0 12.5L0 -12.5M0 -7.81L5 -9.38" transform="translate(282.82 153) rotate(23)"/>
<path d="M0 12.5L0 -12.5M0 -7.81L5 -9.38" transform="translate(300.09 153) rotate(18.9)"/>
<path d="M0 12.5L0 -12.5M0 -7.81L5 -9.38" transform="translate(317.36 153) rotate(352.3)"/>
<path d="M0 12.5L0 -12.5M0 -7.81L5 -9.38" transform="translate(334.64 153) rotate(59.3)"/>
<circle cx="351.91" cy="153" r="3.55" stroke-width="1.9"/>
<path d="M0 12.5L0 -12.5M0 -7.81L5 -9.38" transform="translate(369.19 153) rotate(315)"/>
<path d="M0 12.5L0 -12.5M0 -7.81L5 -9.38" transform="translate(386.46 153) rotate(9.7)"/>
<path d="M0 12.5L0 -12.5M0 -7.81L5 -9.38" transform="translate(403.73 153) rotate(40.6)"/>
<path d="M0 12.5L0 -12.5M0 -7.81L5 -9.38" transform="translate(421.01 153) rotate(41.8)"/>
<path d="M0 12.5L0 -12.5M0 -7.81L5 -9.38" transform="translate(438.28 153) rotate(41.9)"/>
<path d="M0 12.5L0 -12.5M0 -7.81L5 -9.38" transform="translate(455.56 153) rotate(45)"/>
<path d="M0 12.5L0 -12.5M0 -7.81L5 -9.38" transform="translate(472.83 153) rotate(53.8)"/>
<path d="M0 12.5L0 -12.5M0 -7.81L5 -9.38" transform="translate(490.1 153) rotate(45)"/>
<path d="M0 12.5L0 -12.5L10 -15.62" transform="translate(507.38 153) rotate(28.7)"/>
<path d="M0 12.5L0 -12.5M0 -7.81L5 -9.38" transform="translate(524.65 153) rotate(47.1)"/>
<path d="M0 12.5L0 -12.5M0 -7.81L5 -9.38" transform="translate(541.93 153) rotate(47.1)"/>
<path d="M0 12.5L0 -12.5M0 -7.81L5 -9.38" transform="translate(559.2 153) rotate(47.2)"/>
<path d="M0 12.5L0 -12.5M0 -7.81L5 -9.38" transform="translate(576.47 153) rotate(48)"/>
<path d="M0 12.5L0 -12.5M0 -7.81L5 -9.38" transform="translate(593.75 153) rotate(52)"/>
<path d="M0 12.5L0 -12.5M0 -7.81L5 -9.38" transform="translate(611.02 153) rotate(69.6)"/>
<path d="M0 12.5L0 -12.5M0 -7.81L5 -9.38" transform="translate(628.3 153) rotate(210.2)"/>
<circle cx="645.57" cy="153" r="3.55" stroke-width="1.9"/>
<path d="M0 12.5L0 -12.5M0 -7.81L5 -9.38" transform="translate(662.84 153) rotate(41.2)"/>
<path d="M0 12.5L0 -12.5M0 -7.81L5 -9.38" transform="translate(680.12 153) rotate(47.4)"/>
<path d="M0 12.5L0 -12.5M0 -7.81L5 -9.38" transform="translate(697.39 153) rotate(54.7)"/>
<path d="M0 12.5L0 -12.5M0 -7.81L5 -9.38" transform="translate(714.67 153) rotate(56.6)"/>
<path d="M0 12.5L0 -12.5M0 -7.81L5 -9.38" transform="translate(731.94 153) rotate(55.5)"/>
<path d="M0 12.5L0 -12.5M0 -7.81L5 -9.38" transform="translate(749.21 153) rotate(53.4)"/>
<path d="M0 12.5L0 -12.5M0 -7.81L5 -9.38" transform="translate(766.49 153) rotate(47.6)"/>
<path d="M0 12.5L0 -12.5M0 -7.81L5 -9.38" transform="translate(783.76 153) rotate(27.5)"/>
<path d="M0 12.5L0 -12.5M0 -7.81L5 -9.38" transform="translate(801.04 153) rotate(8.1)"/>
<circle cx="818.31" cy="153" r="3.55" stroke-width="1.9"/>
<path d="M0 12.5L0 -12.5M0 -7.81L5 -9.38" transform="translate(835.58 153) rotate(40)"/>
<path d="M0 12.5L0 -12.5M0 -7.81L5 -9.38" transform="translate(852.86 153) rotate(34)"/>
<path d="M0 12.5L0 -12.5M0 -7.81L5 -9.38" transform="translate(870.13 153) rotate(19.5)"/>
<circle cx="887.41" cy="153" r="3.55" stroke-width="1.9"/>
<path d="M0 12.5L0 -12.5M0 -7.81L5 -9.38" transform="translate(904.68 153) rotate(320.4)"/>
<path d="M0 12.5L0 -12.5M0 -7.81L5 -9.38" transform="translate(921.95 153) rotate(338.2)"/>
<circle cx="939.23" cy="153" r="3.55" stroke-width="1.9"/>
<path d="M0 12.5L0 -12.5M0 -7.81L5 -9.38" transform="translate(956.5 153) rotate(54.1)"/>
<path d="M0 12.5L0 -12.5M0 -7.81L5 -9.38" transform="translate(973.78 153) rotate(55.5)"/>
<path d="M0 12.5L0 -12.5M0 -7.81L5 -9.38" transform="translate(991.05 153) rotate(61.3)"/>
<path d="M0 12.5L0 -12.5M0 -7.81L5 -9.38" transform="translate(1008.32 153) rotate(81.6)"/>
<path d="M0 12.5L0 -12.5M0 -7.81L5 -9.38" transform="translate(1025.6 153) rotate(143.2)"/>
<path d="M0 12.5L0 -12.5M0 -7.81L5 -9.38" transform="translate(1042.87 153) rotate(181.5)"/>
<path d="M0 12.5L0 -12.5M0 -7.81L5 -9.38" transform="translate(1060.15 153) rotate(156.8)"/>
<path d="M0 12.5L0 -12.5M0 -7.81L5 -9.38" transform="translate(1077.42 153) rotate(86.4)"/>
<path d="M0 12.5L0 -12.5M0 -7.81L5 -9.38" transform="translate(1094.69 153) rotate(73)"/>
</g>

<path d="M127.9 280.1C129.22 281.42 132.98 285.85 135.8 288C138.62 290.15 141.78 291.9 144.8 293C147.82 294.1 151.28 294.5 153.9 294.6C156.52 294.7 158.43 294.02 160.5 293.6C162.57 293.18 164.32 293.78 166.3 292.1C168.28 290.42 170.33 287.93 172.4 283.5C174.47 279.07 176.52 272.27 178.7 265.5C180.88 258.73 183.25 249.3 185.5 242.9C187.75 236.5 189.95 231.8 192.2 227.1C194.45 222.4 196.43 217.78 199 214.7C201.57 211.62 204.6 208.98 207.6 208.6C210.6 208.22 213.92 210.07 217 212.4C220.08 214.73 221.95 215.63 226.1 222.6C230.25 229.57 237.38 246.68 241.9 254.2C246.42 261.72 249.25 263.57 253.2 267.7C257.15 271.83 261.47 275.62 265.6 279C269.73 282.38 274.23 285.82 278 288C281.77 290.18 284.82 291.42 288.2 292.1C291.58 292.78 295.48 292.4 298.3 292.1C301.12 291.8 302.83 292.1 305.1 290.3C307.37 288.5 309.65 286.57 311.9 281.3C314.15 276.03 315.97 266.6 318.6 258.7C321.23 250.8 324.68 239.73 327.7 233.9C330.72 228.07 333.7 226.15 336.7 223.7C339.7 221.25 342.7 219.58 345.7 219.2C348.7 218.82 351.68 219.52 354.7 221.4C357.72 223.28 360.78 226.35 363.8 230.5C366.82 234.65 370.17 241.78 372.8 246.3C375.43 250.82 376.3 254.03 379.6 257.6C382.9 261.17 388.55 264.52 392.6 267.7C396.65 270.88 400.33 274.18 403.9 276.7C407.47 279.22 411.18 281.85 414 282.8C416.82 283.75 417.78 282.28 420.8 282.4C423.82 282.52 428.33 283.88 432.1 283.5C435.87 283.12 440.58 281.98 443.4 280.1C446.22 278.22 446.93 275.77 449 272.2C451.07 268.63 453.53 263.4 455.8 258.7C458.07 254 460.35 248.13 462.6 244C464.85 239.87 466.87 236.8 469.3 233.9C471.73 231 474.37 228.37 477.2 226.6C480.03 224.83 483.47 223.3 486.3 223.3C489.13 223.3 491.77 224.83 494.2 226.6C496.63 228.37 498.27 229.68 500.9 233.9C503.53 238.12 507.17 247.02 510 251.9C512.83 256.78 514.9 259.82 517.9 263.2C520.9 266.58 524.05 268.62 528 272.2C531.95 275.78 537.08 281.12 541.6 284.7C546.12 288.28 550.58 291.27 555.1 293.7C559.62 296.13 564.37 298.55 568.7 299.3C573.03 300.05 578.1 299.52 581.1 298.2C584.1 296.88 584.63 295.73 586.7 291.4C588.77 287.07 591.28 278.03 593.5 272.2C595.72 266.37 598.15 261.57 600 256.4C601.85 251.23 602.53 245.9 604.6 241.2C606.67 236.5 609.58 231.3 612.4 228.2C615.22 225.1 618.67 223.08 621.5 222.6C624.33 222.12 626.78 223.23 629.4 225.3C632.02 227.37 634.58 231.13 637.2 235C639.82 238.87 642.47 244.18 645.1 248.5C647.73 252.82 649.6 256.75 653 260.9C656.4 265.05 661.17 269.07 665.5 273.4C669.83 277.73 674.87 283.33 679 286.9C683.13 290.47 686.92 292.92 690.3 294.8C693.68 296.68 695.92 297.63 699.3 298.2C702.68 298.77 707.22 298.58 710.6 298.2C713.98 297.82 717.15 297.22 719.6 295.9C722.05 294.58 723.03 294.62 725.3 290.3C727.57 285.98 730.38 276.22 733.2 270C736.02 263.78 738.82 257.52 742.2 253C745.58 248.48 749.73 245.15 753.5 242.9C757.27 240.65 761.42 239.32 764.8 239.5C768.18 239.68 770.8 240.98 773.8 244C776.8 247.02 779.78 253.27 782.8 257.6C785.82 261.93 788.5 266.82 791.9 270C795.3 273.18 799.07 274.25 803.2 276.7C807.33 279.15 812.57 282.05 816.7 284.7C820.83 287.35 824.2 290.08 828 292.6C831.8 295.12 836.37 298.17 839.5 299.8C842.63 301.43 843.7 302.23 846.8 302.4C849.9 302.57 855.28 301.93 858.1 300.8C860.92 299.67 861.83 298.9 863.7 295.6C865.57 292.3 866.48 287.95 869.3 281C872.12 274.05 877.2 260.12 880.6 253.9C884 247.68 886.68 246.27 889.7 243.7C892.72 241.13 895.7 238.88 898.7 238.5C901.7 238.12 904.7 239.22 907.7 241.4C910.7 243.58 913.68 246.52 916.7 251.6C919.72 256.68 922.97 266.45 925.8 271.9C928.63 277.35 930.7 280.83 933.7 284.3C936.7 287.77 939.85 290.07 943.8 292.7C947.75 295.33 953.25 297.92 957.4 300.1C961.55 302.28 964.93 303.92 968.7 305.8C972.47 307.68 977.18 310.35 980 311.4C982.82 312.45 982.97 312.28 985.6 312.1C988.23 311.92 993.07 311.43 995.8 310.3C998.53 309.17 999.75 310.18 1002 305.3C1004.25 300.42 1006.58 289.38 1009.3 281C1012.02 272.62 1015.28 261.03 1018.3 255C1021.32 248.97 1024.38 246.98 1027.4 244.8C1030.42 242.62 1033.4 241.9 1036.4 241.9C1039.4 241.9 1042.58 243 1045.4 244.8C1048.22 246.6 1050.67 249.32 1053.3 252.7C1055.93 256.08 1058.38 261.72 1061.2 265.1C1064.02 268.48 1067.57 271.12 1070.2 273C1072.83 274.88 1074.37 274.7 1077 276.4C1079.63 278.1 1083.07 281.12 1086 283.2C1088.93 285.28 1093.17 287.95 1094.6 288.9" fill="none" stroke="#ff0000" stroke-width="3.1" stroke-linejoin="round" stroke-linecap="butt"/>
<text x="155.4" y="316.2" font-size="18" text-anchor="middle" fill="#000" textLength="21.64" lengthAdjust="spacingAndGlyphs">12</text>
<text x="207" y="230.6" font-size="18" text-anchor="middle" fill="#000" textLength="22.08" lengthAdjust="spacingAndGlyphs">23</text>
<text x="292.5" y="314" font-size="18" text-anchor="middle" fill="#000" textLength="21.64" lengthAdjust="spacingAndGlyphs">12</text>
<text x="345.2" y="240.6" font-size="18" text-anchor="middle" fill="#000" textLength="21.8" lengthAdjust="spacingAndGlyphs">22</text>
<text x="432" y="305.5" font-size="18" text-anchor="middle" fill="#000" textLength="22.1" lengthAdjust="spacingAndGlyphs">14</text>
<text x="489.5" y="244.7" font-size="18" text-anchor="middle" fill="#000" textLength="21.9" lengthAdjust="spacingAndGlyphs">21</text>
<text x="570" y="322" font-size="18" text-anchor="middle" fill="#000" textLength="21.64" lengthAdjust="spacingAndGlyphs">12</text>
<text x="621.5" y="244.5" font-size="18" text-anchor="middle" fill="#000" textLength="21.9" lengthAdjust="spacingAndGlyphs">21</text>
<text x="702.8" y="320.5" font-size="18" text-anchor="middle" fill="#000" textLength="21.64" lengthAdjust="spacingAndGlyphs">12</text>
<text x="766.5" y="260.5" font-size="18" text-anchor="middle" fill="#000" textLength="22.25" lengthAdjust="spacingAndGlyphs">19</text>
<text x="846" y="323.7" font-size="18" text-anchor="middle" fill="#000" textLength="21.95" lengthAdjust="spacingAndGlyphs">11</text>
<text x="898.5" y="259.5" font-size="18" text-anchor="middle" fill="#000" textLength="22.25" lengthAdjust="spacingAndGlyphs">19</text>
<text x="985.5" y="334" font-size="18" text-anchor="middle" fill="#000" textLength="22.02" lengthAdjust="spacingAndGlyphs">10</text>
<text x="1036.4" y="263.3" font-size="18" text-anchor="middle" fill="#000" textLength="22.25" lengthAdjust="spacingAndGlyphs">19</text>
<text x="1094.6" y="310.3" font-size="18" text-anchor="middle" fill="#000" textLength="21.93" lengthAdjust="spacingAndGlyphs">13</text>

<rect x="127.55" y="97.45" width="966.85" height="262" fill="none" stroke="#000" stroke-width="1.2"/>
<text x="196.45" y="68.8" font-size="18" text-anchor="middle" fill="#000" textLength="98.36" lengthAdjust="spacingAndGlyphs">ponedeljek</text>
<text x="196.45" y="89.6" font-size="18" text-anchor="middle" fill="#000" textLength="50.7" lengthAdjust="spacingAndGlyphs">13.10</text>
<text x="161.9" y="376.8" font-size="18" text-anchor="middle" fill="#000" textLength="22.15" lengthAdjust="spacingAndGlyphs">06</text>
<text x="196.45" y="376.8" font-size="18" text-anchor="middle" fill="#000" textLength="21.64" lengthAdjust="spacingAndGlyphs">12</text>
<text x="230.99" y="376.8" font-size="18" text-anchor="middle" fill="#000" textLength="22.14" lengthAdjust="spacingAndGlyphs">18</text>
<text x="334.64" y="68.8" font-size="18" text-anchor="middle" fill="#000" textLength="46.34" lengthAdjust="spacingAndGlyphs">torek</text>
<text x="334.64" y="89.6" font-size="18" text-anchor="middle" fill="#000" textLength="50.7" lengthAdjust="spacingAndGlyphs">14.10</text>
<text x="265.54" y="376.8" font-size="18" text-anchor="middle" fill="#000" textLength="25.71" lengthAdjust="spacingAndGlyphs">tor</text>
<text x="300.09" y="376.8" font-size="18" text-anchor="middle" fill="#000" textLength="22.15" lengthAdjust="spacingAndGlyphs">06</text>
<text x="334.64" y="376.8" font-size="18" text-anchor="middle" fill="#000" textLength="21.64" lengthAdjust="spacingAndGlyphs">12</text>
<text x="369.19" y="376.8" font-size="18" text-anchor="middle" fill="#000" textLength="22.14" lengthAdjust="spacingAndGlyphs">18</text>
<text x="472.83" y="68.8" font-size="18" text-anchor="middle" fill="#000" textLength="47.84" lengthAdjust="spacingAndGlyphs">sreda</text>
<text x="472.83" y="89.6" font-size="18" text-anchor="middle" fill="#000" textLength="50.7" lengthAdjust="spacingAndGlyphs">15.10</text>
<text x="403.73" y="376.8" font-size="18" text-anchor="middle" fill="#000" textLength="26.89" lengthAdjust="spacingAndGlyphs">sre</text>
<text x="438.28" y="376.8" font-size="18" text-anchor="middle" fill="#000" textLength="22.15" lengthAdjust="spacingAndGlyphs">06</text>
<text x="472.83" y="376.8" font-size="18" text-anchor="middle" fill="#000" textLength="21.64" lengthAdjust="spacingAndGlyphs">12</text>
<text x="507.38" y="376.8" font-size="18" text-anchor="middle" fill="#000" textLength="22.14" lengthAdjust="spacingAndGlyphs">18</text>
<text x="611.02" y="68.8" font-size="18" text-anchor="middle" fill="#000" textLength="63.77" lengthAdjust="spacingAndGlyphs">četrtek</text>
<text x="611.02" y="89.6" font-size="18" text-anchor="middle" fill="#000" textLength="50.7" lengthAdjust="spacingAndGlyphs">16.10</text>
<text x="541.93" y="376.8" font-size="18" text-anchor="middle" fill="#000" textLength="27.55" lengthAdjust="spacingAndGlyphs">čet</text>
<text x="576.47" y="376.8" font-size="18" text-anchor="middle" fill="#000" textLength="22.15" lengthAdjust="spacingAndGlyphs">06</text>
<text x="611.02" y="376.8" font-size="18" text-anchor="middle" fill="#000" textLength="21.64" lengthAdjust="spacingAndGlyphs">12</text>
<text x="645.57" y="376.8" font-size="18" text-anchor="middle" fill="#000" textLength="22.14" lengthAdjust="spacingAndGlyphs">18</text>
<text x="749.21" y="68.8" font-size="18" text-anchor="middle" fill="#000" textLength="50.57" lengthAdjust="spacingAndGlyphs">petek</text>
<text x="749.21" y="89.6" font-size="18" text-anchor="middle" fill="#000" textLength="50.7" lengthAdjust="spacingAndGlyphs">17.10</text>
<text x="680.12" y="376.8" font-size="18" text-anchor="middle" fill="#000" textLength="28.89" lengthAdjust="spacingAndGlyphs">pet</text>
<text x="714.67" y="376.8" font-size="18" text-anchor="middle" fill="#000" textLength="22.15" lengthAdjust="spacingAndGlyphs">06</text>
<text x="749.21" y="376.8" font-size="18" text-anchor="middle" fill="#000" textLength="21.64" lengthAdjust="spacingAndGlyphs">12</text>
<text x="783.76" y="376.8" font-size="18" text-anchor="middle" fill="#000" textLength="22.14" lengthAdjust="spacingAndGlyphs">18</text>
<text x="887.41" y="68.8" font-size="18" text-anchor="middle" fill="#cc0000" textLength="58.85" lengthAdjust="spacingAndGlyphs">sobota</text>
<text x="887.41" y="89.6" font-size="18" text-anchor="middle" fill="#cc0000" textLength="50.7" lengthAdjust="spacingAndGlyphs">18.10</text>
<text x="818.31" y="376.8" font-size="18" text-anchor="middle" fill="#000" textLength="31.37" lengthAdjust="spacingAndGlyphs">sob</text>
<text x="852.86" y="376.8" font-size="18" text-anchor="middle" fill="#000" textLength="22.15" lengthAdjust="spacingAndGlyphs">06</text>
<text x="887.41" y="376.8" font-size="18" text-anchor="middle" fill="#000" textLength="21.64" lengthAdjust="spacingAndGlyphs">12</text>
<text x="921.95" y="376.8" font-size="18" text-anchor="middle" fill="#000" textLength="22.14" lengthAdjust="spacingAndGlyphs">18</text>
<text x="1025.6" y="68.8" font-size="18" text-anchor="middle" fill="#cc0000" textLength="64.02" lengthAdjust="spacingAndGlyphs">nedelja</text>
<text x="1025.6" y="89.6" font-size="18" text-anchor="middle" fill="#cc0000" textLength="50.7" lengthAdjust="spacingAndGlyphs">19.10</text>
<text x="956.5" y="376.8" font-size="18" text-anchor="middle" fill="#000" textLength="33.25" lengthAdjust="spacingAndGlyphs">ned</text>
<text x="991.05" y="376.8" font-size="18" text-anchor="middle" fill="#000" textLength="22.15" lengthAdjust="spacingAndGlyphs">06</text>
<text x="1025.6" y="376.8" font-size="18" text-anchor="middle" fill="#000" textLength="21.64" lengthAdjust="spacingAndGlyphs">12</text>
<text x="1060.15" y="376.8" font-size="18" text-anchor="middle" fill="#000" textLength="22.14" lengthAdjust="spacingAndGlyphs">18</text>
<text x="122.6" y="365.2" font-size="18" text-anchor="end" fill="#000" textLength="10.42" lengthAdjust="spacingAndGlyphs">0</text>
<text x="122.6" y="327.9" font-size="18" text-anchor="end" fill="#000" textLength="10.13" lengthAdjust="spacingAndGlyphs">1</text>
<text x="122.6" y="290.6" font-size="18" text-anchor="end" fill="#000" textLength="10.23" lengthAdjust="spacingAndGlyphs">2</text>
<text x="122.6" y="253.3" font-size="18" text-anchor="end" fill="#000" textLength="10.12" lengthAdjust="spacingAndGlyphs">3</text>
<text x="122.6" y="216" font-size="18" text-anchor="end" fill="#000" textLength="10.6" lengthAdjust="spacingAndGlyphs">4</text>
<text x="122.6" y="178.7" font-size="18" text-anchor="end" fill="#000" textLength="10.01" lengthAdjust="spacingAndGlyphs">5</text>
<text x="46.3" y="365.2" font-size="18" text-anchor="start" fill="#ff0000" textLength="10.6" lengthAdjust="spacingAndGlyphs">4</text>
<text x="46.3" y="327.9" font-size="18" text-anchor="start" fill="#ff0000" textLength="10.98" lengthAdjust="spacingAndGlyphs">9</text>
<text x="46.3" y="290.6" font-size="18" text-anchor="start" fill="#ff0000" textLength="22.1" lengthAdjust="spacingAndGlyphs">14</text>
<text x="46.3" y="253.3" font-size="18" text-anchor="start" fill="#ff0000" textLength="22.14" lengthAdjust="spacingAndGlyphs">18</text>
<text x="46.3" y="216" font-size="18" text-anchor="start" fill="#ff0000" textLength="22.08" lengthAdjust="spacingAndGlyphs">23</text>
<text x="46.3" y="178.7" font-size="18" text-anchor="start" fill="#ff0000" textLength="22.28" lengthAdjust="spacingAndGlyphs">28</text>
<text x="1099.6" y="365.2" font-size="18" text-anchor="start" fill="#000" textLength="10.42" lengthAdjust="spacingAndGlyphs">0</text>
<text x="1099.6" y="327.9" font-size="18" text-anchor="start" fill="#000" textLength="27.48" lengthAdjust="spacingAndGlyphs">1.5</text>
<text x="1099.6" y="290.6" font-size="18" text-anchor="start" fill="#000" textLength="27.21" lengthAdjust="spacingAndGlyphs">3.5</text>
<text x="1099.6" y="253.3" font-size="18" text-anchor="start" fill="#000" textLength="27.99" lengthAdjust="spacingAndGlyphs">6.0</text>
<text x="1099.6" y="216" font-size="18" text-anchor="start" fill="#000" textLength="27.98" lengthAdjust="spacingAndGlyphs">9.0</text>
<text x="1099.6" y="178.7" font-size="18" text-anchor="start" fill="#000" textLength="22.1" lengthAdjust="spacingAndGlyphs">14</text>
<text x="100.5" y="345" font-size="20.3" text-anchor="start" fill="#000" textLength="162.09" lengthAdjust="spacingAndGlyphs" transform="rotate(-90 100.5 345)">Padavine (mm/h)</text>
<text x="36" y="348.3" font-size="20.3" text-anchor="start" fill="#ff0000" textLength="162.81" lengthAdjust="spacingAndGlyphs" transform="rotate(-90 36 348.3)">Temperatura (°C)</text>
<text x="1145.6" y="348.8" font-size="20.3" text-anchor="start" fill="#000" textLength="186.48" lengthAdjust="spacingAndGlyphs" transform="rotate(-90 1145.6 348.8)">Višina oblakov (km)</text>
<rect x="127" y="390" width="32" height="11.2" fill="#0055ff"/>
<rect x="165" y="386.3" width="105" height="19.5" fill="#fff"/>
<text x="169.0" y="401.9" font-size="20" fill="#000" textLength="34.6" lengthAdjust="spacingAndGlyphs">Dež</text>
<rect x="278" y="390" width="32" height="11.2" fill="#14d9c9"/>
<rect x="310.5" y="386.3" width="109.5" height="19.5" fill="#fff"/>
<text x="318.8" y="401.9" font-size="20" fill="#000" textLength="115.6" lengthAdjust="spacingAndGlyphs">Možnost ploh</text>
<text x="499.5" y="401.3" font-size="16" fill="#0000ff" textLength="171" lengthAdjust="spacingAndGlyphs">© vreme.us &amp; vreme.pro</text>
<rect x="759.8" y="386.3" width="180.7" height="19.5" fill="#fff"/>
<text x="759.8" y="401.9" font-size="20" fill="#000" textLength="174.8" lengthAdjust="spacingAndGlyphs">Gostota oblakov (%)</text>
<rect x="949.1" y="385.5" width="29.4" height="13" fill="#cfcfcf"/>
<rect x="978.2" y="385.5" width="29.4" height="13" fill="#adadad"/>
<rect x="1007.3" y="385.5" width="29.4" height="13" fill="#8c8c8c"/>
<rect x="1036.4" y="385.5" width="29.4" height="13" fill="#6e6e6e"/>
<rect x="1065.5" y="385.5" width="29.4" height="13" fill="#525252"/>
<rect x="949.1" y="385.5" width="145.5" height="13" fill="none" stroke="#222" stroke-width="1"/>
<text x="949.6" y="414.7" font-size="17" text-anchor="middle" fill="#000" textLength="18.72" lengthAdjust="spacingAndGlyphs">10</text>
<text x="978.2" y="414.7" font-size="17" text-anchor="middle" fill="#000" textLength="18.6" lengthAdjust="spacingAndGlyphs">25</text>
<text x="1007.3" y="414.7" font-size="17" text-anchor="middle" fill="#000" textLength="18.58" lengthAdjust="spacingAndGlyphs">50</text>
<text x="1036.4" y="414.7" font-size="17" text-anchor="middle" fill="#000" textLength="18.44" lengthAdjust="spacingAndGlyphs">75</text>
<text x="1065.5" y="414.7" font-size="17" text-anchor="middle" fill="#000" textLength="18.92" lengthAdjust="spacingAndGlyphs">90</text>
<text x="1095.2" y="414.7" font-size="17" text-anchor="middle" fill="#000" textLength="28.57" lengthAdjust="spacingAndGlyphs">100</text>
<text x="10.3" y="22" font-size="16" fill="#0000ff">(kraj lahko izberete v meniju)</text>
<text x="399.3" y="37.5" font-size="23.7" fill="#0000ff">Pakoštane 7 dni</text>
<text x="1142.3" y="22" font-size="16" fill="#0000ff" text-anchor="end">Zadnja posodobitev: 13.10.2025 - 00:07</text>
</svg>
</body></html>
